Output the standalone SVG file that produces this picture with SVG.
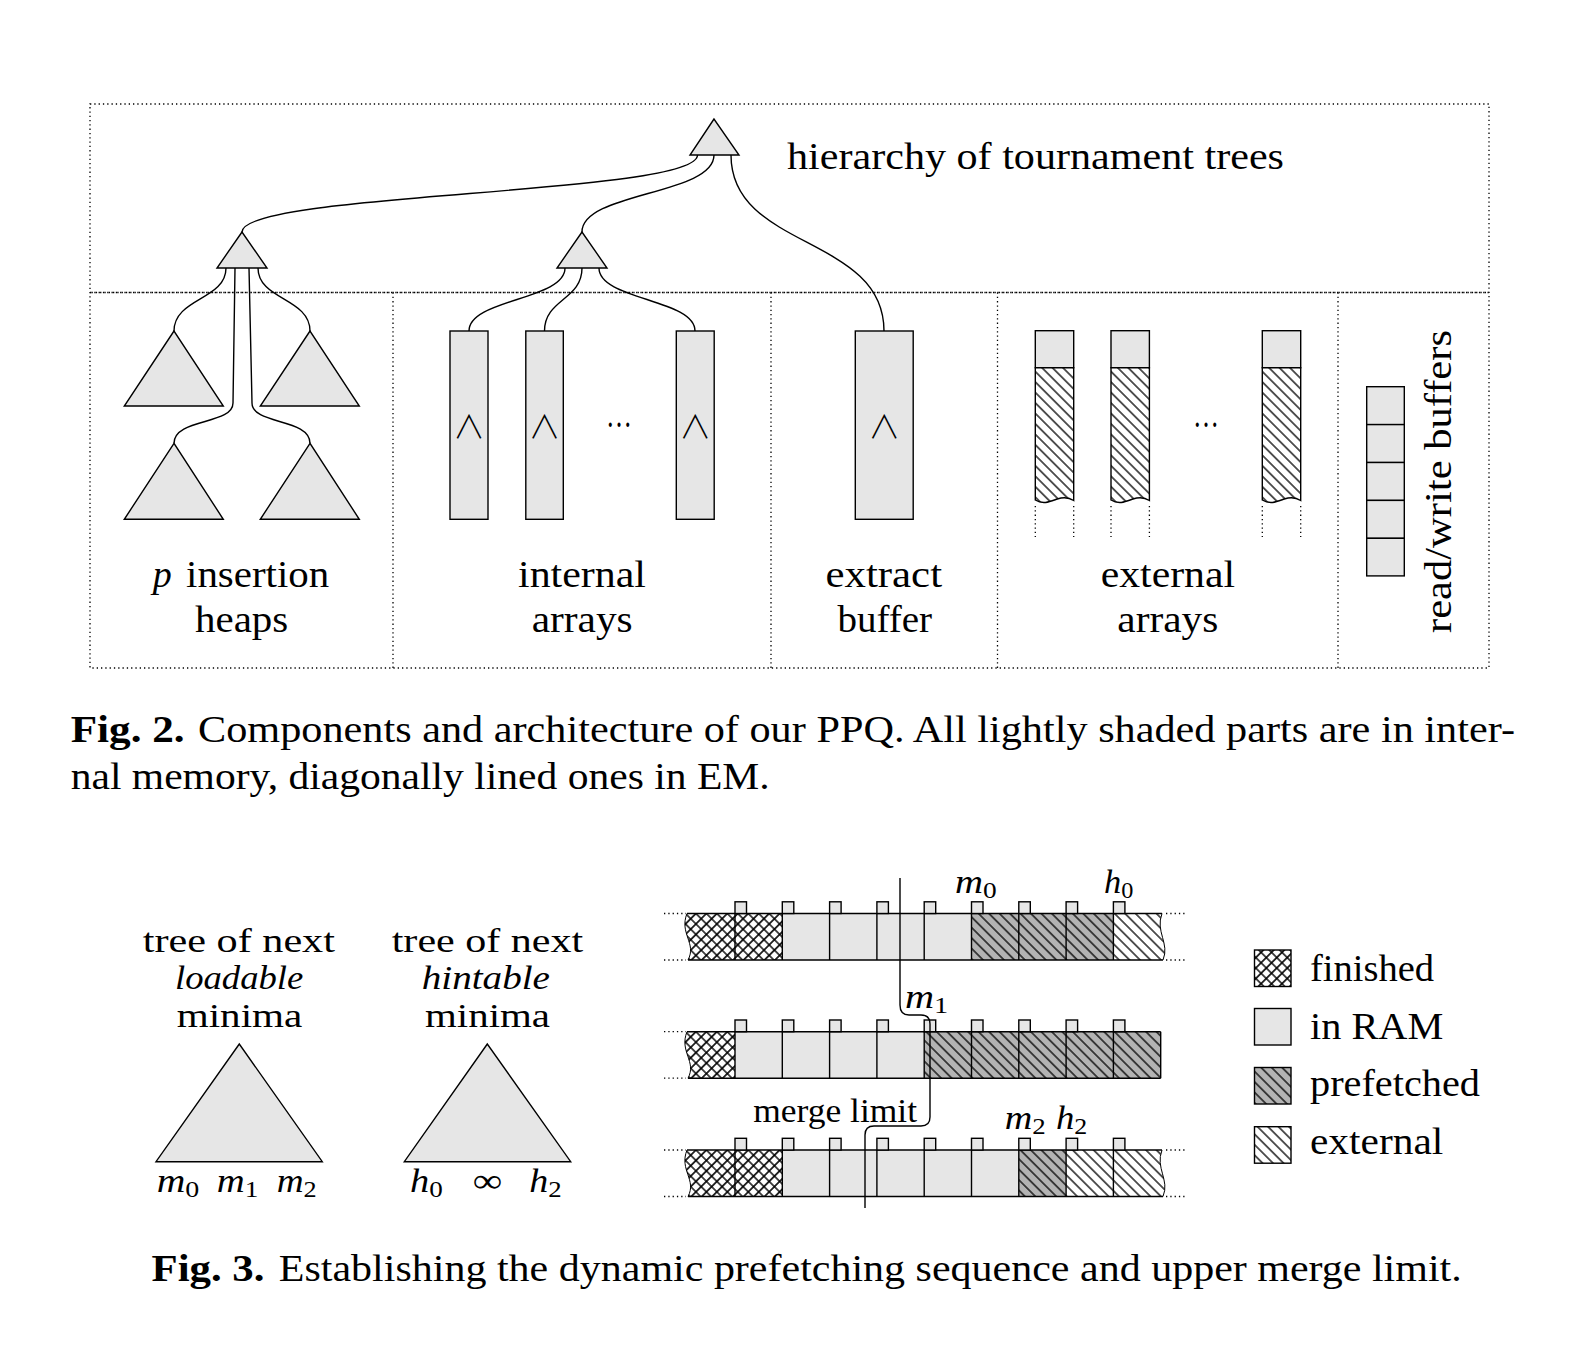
<svg xmlns="http://www.w3.org/2000/svg" width="1584" height="1348" viewBox="0 0 1584 1348">
<defs>
<style>
.t{font-family:"Liberation Serif","Times New Roman",serif;font-size:38px;fill:#000}
.cap{font-size:37px}
.f3{font-size:33.5px}
.it{font-style:italic}
.b{font-weight:bold}
.m{font-family:"Liberation Serif","Times New Roman",serif;font-style:italic;font-size:34px;fill:#000}
.sub{font-style:normal;font-size:24px}
.ln{fill:none;stroke:#000;stroke-width:1.4}
.lt{fill:#e6e6e6;stroke:#000;stroke-width:1.4}
.dt{fill:none;stroke:#000;stroke-width:1.3;stroke-dasharray:1.3 3}
.sym{font-family:"Noto Sans CJK JP","DejaVu Sans",sans-serif;font-weight:300;font-size:32px;fill:#000}
.wv{fill:none;stroke:#000;stroke-width:1}
</style>
<pattern id="nw" patternUnits="userSpaceOnUse" width="7.4" height="7.4" patternTransform="rotate(-45)"><rect width="7.4" height="7.4" fill="#fff"/><line x1="3.7" y1="-1" x2="3.7" y2="8.4" stroke="#000" stroke-width="1.3"/></pattern>
<pattern id="nwg" patternUnits="userSpaceOnUse" width="7.4" height="7.4" patternTransform="rotate(-45)"><rect width="7.4" height="7.4" fill="#b3b3b3"/><line x1="3.7" y1="-1" x2="3.7" y2="8.4" stroke="#000" stroke-width="1.3"/></pattern>
<pattern id="cross" patternUnits="userSpaceOnUse" width="7.4" height="7.4" patternTransform="rotate(45)"><rect width="7.4" height="7.4" fill="#fff"/><path d="M3.7,-1V8.4M-1,3.7H8.4" stroke="#000" stroke-width="1.6"/></pattern>
</defs>
<rect width="1584" height="1348" fill="#fff"/>

<!-- Fig 2 frame -->
<g id="fig2-frame">
<rect class="dt" x="90" y="104" width="1399" height="564"/>
<line class="dt" x1="90" y1="292.5" x2="1489" y2="292.5"/>
<line class="dt" x1="91.5" y1="292.5" x2="1489" y2="292.5"/>
<line class="dt" x1="393" y1="292.5" x2="393" y2="668"/>
<line class="dt" x1="771" y1="292.5" x2="771" y2="668"/>
<line class="dt" x1="997.5" y1="292.5" x2="997.5" y2="668"/>
<line class="dt" x1="1338" y1="292.5" x2="1338" y2="668"/>
</g>

<g id="fig2-connectors">
<path class="ln" d="M697.5,155 C697.5,195 242,192 242,232"/>
<path class="ln" d="M714,155 C714,195 582,192 582,232"/>
<path class="ln" d="M731,155 C731,250 884,235 884,331"/>
<path class="ln" d="M226,268 C226,300 174,298 174,331"/>
<path class="ln" d="M235,268 L233,403 C233,425 174,418 174,443.3"/>
<path class="ln" d="M249,268 L252,403 C252,425 310,418 310,443.3"/>
<path class="ln" d="M258,268 C258,300 310,298 310,331"/>
<path class="ln" d="M565,268 C565,300 469,299 469,331"/>
<path class="ln" d="M582,268 C582,300 544.5,299 544.5,331"/>
<path class="ln" d="M599,268 C599,300 695,299 695,331"/>
</g>

<g id="top-tree"><polygon class="lt" points="714,119 690,155 739,155"/></g>
<g id="heap-tree"><polygon class="lt" points="242,232 217,268 267,268"/></g>
<g id="array-tree"><polygon class="lt" points="582,232 557,268 607,268"/></g>
<text class="t" x="787" y="169" textLength="497" lengthAdjust="spacingAndGlyphs">hierarchy of tournament trees</text>

<g id="insertion-heaps">
<polygon class="lt" points="174,331 124.3,406 223.3,406"/>
<polygon class="lt" points="310,331 260.3,406 359.3,406"/>
<polygon class="lt" points="174,443.3 124.3,519.3 223.3,519.3"/>
<polygon class="lt" points="310,443.3 260.3,519.3 359.3,519.3"/>
<text class="t it" x="152.7" y="586.7">p</text>
<text class="t" x="186" y="586.7" textLength="143.3" lengthAdjust="spacingAndGlyphs">insertion</text>
<text class="t" x="195" y="631.7" textLength="93.3" lengthAdjust="spacingAndGlyphs">heaps</text>
</g>

<g id="internal-arrays">
<rect class="lt" x="450" y="331" width="38" height="188.3"/>
<rect class="lt" x="525.8" y="331" width="37.5" height="188.3"/>
<rect class="lt" x="676.3" y="331" width="37.9" height="188.3"/>
<text class="sym" x="469" y="438" text-anchor="middle">∧</text>
<text class="sym" x="544.5" y="438" text-anchor="middle">∧</text>
<text class="sym" x="695.2" y="438" text-anchor="middle">∧</text>
<text class="t" x="606" y="427" textLength="26" lengthAdjust="spacingAndGlyphs">…</text>
<text class="t" x="518" y="586.7" textLength="128" lengthAdjust="spacingAndGlyphs">internal</text>
<text class="t" x="531.7" y="631.7" textLength="101" lengthAdjust="spacingAndGlyphs">arrays</text>
</g>

<g id="extract-buffer">
<rect class="lt" x="855.3" y="331" width="57.9" height="188.3"/>
<text class="sym" x="884.2" y="438" text-anchor="middle">∧</text>
<text class="t" x="825.4" y="586.7" textLength="116.7" lengthAdjust="spacingAndGlyphs">extract</text>
<text class="t" x="837.4" y="631.7" textLength="94.7" lengthAdjust="spacingAndGlyphs">buffer</text>
</g>

<g id="external-arrays">
<g transform="translate(1035.3,0)">
<rect class="lt" x="0" y="330.7" width="38.4" height="37"/>
<path d="M0,367.7 H38.4 V500.5 C33,497 28,497 22,499 C15,501.5 8,505 0,500 Z" fill="url(#nw)" stroke="#000" stroke-width="1.4"/>
<line class="dt" x1="0" y1="506" x2="0" y2="537"/><line class="dt" x1="38.4" y1="506" x2="38.4" y2="537"/>
</g>
<g transform="translate(1111,0)">
<rect class="lt" x="0" y="330.7" width="38.4" height="37"/>
<path d="M0,367.7 H38.4 V500.5 C33,497 28,497 22,499 C15,501.5 8,505 0,500 Z" fill="url(#nw)" stroke="#000" stroke-width="1.4"/>
<line class="dt" x1="0" y1="506" x2="0" y2="537"/><line class="dt" x1="38.4" y1="506" x2="38.4" y2="537"/>
</g>
<g transform="translate(1262.3,0)">
<rect class="lt" x="0" y="330.7" width="38.4" height="37"/>
<path d="M0,367.7 H38.4 V500.5 C33,497 28,497 22,499 C15,501.5 8,505 0,500 Z" fill="url(#nw)" stroke="#000" stroke-width="1.4"/>
<line class="dt" x1="0" y1="506" x2="0" y2="537"/><line class="dt" x1="38.4" y1="506" x2="38.4" y2="537"/>
</g>
<text class="t" x="1193" y="427" textLength="26" lengthAdjust="spacingAndGlyphs">…</text>
<text class="t" x="1100.7" y="586.7" textLength="134.3" lengthAdjust="spacingAndGlyphs">external</text>
<text class="t" x="1117.3" y="631.7" textLength="101" lengthAdjust="spacingAndGlyphs">arrays</text>
</g>

<g id="rw-buffers">
<rect class="lt" x="1366.7" y="386.7" width="37.6" height="37.9"/>
<rect class="lt" x="1366.7" y="424.6" width="37.6" height="37.9"/>
<rect class="lt" x="1366.7" y="462.5" width="37.6" height="37.9"/>
<rect class="lt" x="1366.7" y="500.4" width="37.6" height="37.9"/>
<rect class="lt" x="1366.7" y="538.3" width="37.6" height="37.6"/>
<text class="t" transform="translate(1451,481.5) rotate(-90)" text-anchor="middle" textLength="303" lengthAdjust="spacingAndGlyphs">read/write buffers</text>
</g>

<g id="fig2-caption">
<text class="t cap b" x="70.7" y="742" textLength="114" lengthAdjust="spacingAndGlyphs">Fig. 2.</text>
<text class="t cap" x="198" y="742" textLength="1317" lengthAdjust="spacingAndGlyphs">Components and architecture of our PPQ. All lightly shaded parts are in inter-</text>
<text class="t cap" x="70.7" y="789" textLength="699" lengthAdjust="spacingAndGlyphs">nal memory, diagonally lined ones in EM.</text>
</g>

<!-- Fig 3 -->
<g id="loadable-tree">
<text class="t f3" x="142.7" y="951.5" textLength="192.3" lengthAdjust="spacingAndGlyphs">tree of next</text>
<text class="t f3 it" x="175" y="989" textLength="128.3" lengthAdjust="spacingAndGlyphs">loadable</text>
<text class="t f3" x="176.7" y="1027" textLength="125.7" lengthAdjust="spacingAndGlyphs">minima</text>
<polygon class="lt" points="239.3,1044 156,1161.7 322.3,1161.7"/>
<text class="m" x="156.7" y="1192" textLength="42.6" lengthAdjust="spacingAndGlyphs">m<tspan class="sub" dy="5">0</tspan></text>
<text class="m" x="216.7" y="1192" textLength="41.6" lengthAdjust="spacingAndGlyphs">m<tspan class="sub" dy="5">1</tspan></text>
<text class="m" x="276.7" y="1192" textLength="40" lengthAdjust="spacingAndGlyphs">m<tspan class="sub" dy="5">2</tspan></text>
</g>

<g id="hintable-tree">
<text class="t f3" x="391.7" y="951.5" textLength="191.6" lengthAdjust="spacingAndGlyphs">tree of next</text>
<text class="t f3 it" x="421.7" y="989" textLength="128.3" lengthAdjust="spacingAndGlyphs">hintable</text>
<text class="t f3" x="425" y="1027" textLength="125" lengthAdjust="spacingAndGlyphs">minima</text>
<polygon class="lt" points="487.3,1044 404.3,1161.7 570.7,1161.7"/>
<text class="m" x="410" y="1192" textLength="32.7" lengthAdjust="spacingAndGlyphs">h<tspan class="sub" dy="5">0</tspan></text>
<text class="t" x="472.7" y="1192" textLength="29.6" lengthAdjust="spacingAndGlyphs" style="font-size:34px">∞</text>
<text class="m" x="529.3" y="1192" textLength="32.4" lengthAdjust="spacingAndGlyphs">h<tspan class="sub" dy="5">2</tspan></text>
</g>

<!-- Row 1 -->
<g id="row1" transform="translate(0,913.5)">
<path d="M735,0 H687 C679,20 697,30 688,46.5 H735 Z" fill="url(#cross)"/>
<rect x="735" y="0" width="47.3" height="46.5" fill="url(#cross)"/>
<rect x="782.3" y="0" width="189.2" height="46.5" fill="#e6e6e6"/>
<rect x="971.5" y="0" width="141.9" height="46.5" fill="url(#nwg)"/>
<path d="M1113.4,0 H1162 C1155,18 1170,30 1163,46.5 H1113.4 Z" fill="url(#nw)"/>
<path class="wv" d="M687,0 C679,20 697,30 688,46.5"/>
<path class="wv" d="M1162,0 C1155,18 1170,30 1163,46.5"/>
<line class="ln" x1="687" y1="0" x2="1162" y2="0"/>
<line class="ln" x1="688" y1="46.5" x2="1163" y2="46.5"/>
<path class="ln" d="M735,0V46.5M782.3,0V46.5M829.6,0V46.5M876.9,0V46.5M924.2,0V46.5M971.5,0V46.5M1018.8,0V46.5M1066.1,0V46.5M1113.4,0V46.5"/>
<rect class="lt" x="735" y="-11.7" width="11.5" height="11.7"/><rect class="lt" x="782.3" y="-11.7" width="11.5" height="11.7"/><rect class="lt" x="829.6" y="-11.7" width="11.5" height="11.7"/><rect class="lt" x="876.9" y="-11.7" width="11.5" height="11.7"/><rect class="lt" x="924.2" y="-11.7" width="11.5" height="11.7"/><rect class="lt" x="971.5" y="-11.7" width="11.5" height="11.7"/><rect class="lt" x="1018.8" y="-11.7" width="11.5" height="11.7"/><rect class="lt" x="1066.1" y="-11.7" width="11.5" height="11.7"/><rect class="lt" x="1113.4" y="-11.7" width="11.5" height="11.7"/>
<path class="dt" d="M664,0H686M664,46.5H686M1166,0H1186M1166,46.5H1186"/>
</g>

<!-- Row 2 -->
<g id="row2" transform="translate(0,1031.7)">
<path d="M735,0 H687 C679,20 697,30 688,46.5 H735 Z" fill="url(#cross)"/>
<rect x="735" y="0" width="189.2" height="46.5" fill="#e6e6e6"/>
<rect x="924.2" y="0" width="236.5" height="46.5" fill="url(#nwg)"/>
<path class="wv" d="M687,0 C679,20 697,30 688,46.5"/>
<line class="ln" x1="687" y1="0" x2="1160.7" y2="0"/>
<line class="ln" x1="688" y1="46.5" x2="1160.7" y2="46.5"/>
<path class="ln" d="M735,0V46.5M782.3,0V46.5M829.6,0V46.5M876.9,0V46.5M924.2,0V46.5M971.5,0V46.5M1018.8,0V46.5M1066.1,0V46.5M1113.4,0V46.5M1160.7,0V46.5"/>
<rect class="lt" x="735" y="-11.7" width="11.5" height="11.7"/><rect class="lt" x="782.3" y="-11.7" width="11.5" height="11.7"/><rect class="lt" x="829.6" y="-11.7" width="11.5" height="11.7"/><rect class="lt" x="876.9" y="-11.7" width="11.5" height="11.7"/><rect class="lt" x="924.2" y="-11.7" width="11.5" height="11.7"/><rect class="lt" x="971.5" y="-11.7" width="11.5" height="11.7"/><rect class="lt" x="1018.8" y="-11.7" width="11.5" height="11.7"/><rect class="lt" x="1066.1" y="-11.7" width="11.5" height="11.7"/><rect class="lt" x="1113.4" y="-11.7" width="11.5" height="11.7"/>
<path class="dt" d="M664,0H686M664,46.5H686"/>
</g>

<!-- Row 3 -->
<g id="row3" transform="translate(0,1150)">
<path d="M735,0 H687 C679,20 697,30 688,46.5 H735 Z" fill="url(#cross)"/>
<rect x="735" y="0" width="47.3" height="46.5" fill="url(#cross)"/>
<rect x="782.3" y="0" width="236.5" height="46.5" fill="#e6e6e6"/>
<rect x="1018.8" y="0" width="47.3" height="46.5" fill="url(#nwg)"/>
<rect x="1066.1" y="0" width="47.3" height="46.5" fill="url(#nw)"/>
<path d="M1113.4,0 H1162 C1155,18 1170,30 1163,46.5 H1113.4 Z" fill="url(#nw)"/>
<path class="wv" d="M687,0 C679,20 697,30 688,46.5"/>
<path class="wv" d="M1162,0 C1155,18 1170,30 1163,46.5"/>
<line class="ln" x1="687" y1="0" x2="1162" y2="0"/>
<line class="ln" x1="688" y1="46.5" x2="1163" y2="46.5"/>
<path class="ln" d="M735,0V46.5M782.3,0V46.5M829.6,0V46.5M876.9,0V46.5M924.2,0V46.5M971.5,0V46.5M1018.8,0V46.5M1066.1,0V46.5M1113.4,0V46.5"/>
<rect class="lt" x="735" y="-11.7" width="11.5" height="11.7"/><rect class="lt" x="782.3" y="-11.7" width="11.5" height="11.7"/><rect class="lt" x="829.6" y="-11.7" width="11.5" height="11.7"/><rect class="lt" x="876.9" y="-11.7" width="11.5" height="11.7"/><rect class="lt" x="924.2" y="-11.7" width="11.5" height="11.7"/><rect class="lt" x="971.5" y="-11.7" width="11.5" height="11.7"/><rect class="lt" x="1018.8" y="-11.7" width="11.5" height="11.7"/><rect class="lt" x="1066.1" y="-11.7" width="11.5" height="11.7"/><rect class="lt" x="1113.4" y="-11.7" width="11.5" height="11.7"/>
<path class="dt" d="M664,0H686M664,46.5H686M1166,0H1186M1166,46.5H1186"/>
</g>

<g id="fig3-connectors">
<path class="ln" d="M900,878 V1005 Q900,1015 909,1015 H921 Q930,1015 930,1024 V1117 Q930,1126 921,1126 H874 Q865,1126 865,1135 V1208"/>
</g>

<g id="fig3-labels">
<text class="m" x="955" y="893" textLength="41.7" lengthAdjust="spacingAndGlyphs">m<tspan class="sub" dy="5">0</tspan></text>
<text class="m" x="1104" y="893" textLength="29.3" lengthAdjust="spacingAndGlyphs">h<tspan class="sub" dy="5">0</tspan></text>
<text class="m" x="905" y="1008" textLength="43.3" lengthAdjust="spacingAndGlyphs">m<tspan class="sub" dy="5">1</tspan></text>
<text class="t" x="753.3" y="1122" textLength="163.7" lengthAdjust="spacingAndGlyphs" style="font-size:33px">merge limit</text>
<text class="m" x="1004.7" y="1129" textLength="41" lengthAdjust="spacingAndGlyphs">m<tspan class="sub" dy="5">2</tspan></text>
<text class="m" x="1056" y="1129" textLength="31.3" lengthAdjust="spacingAndGlyphs">h<tspan class="sub" dy="5">2</tspan></text>
</g>

<g id="legend">
<rect x="1254.5" y="950" width="36.5" height="36.5" fill="url(#cross)" stroke="#000" stroke-width="1.4"/>
<rect class="lt" x="1254.5" y="1008.5" width="36.5" height="36.5"/>
<rect x="1254.5" y="1067.5" width="36.5" height="36.5" fill="url(#nwg)" stroke="#000" stroke-width="1.4"/>
<rect x="1254.5" y="1126.7" width="36.5" height="36.5" fill="url(#nw)" stroke="#000" stroke-width="1.4"/>
<text class="t" x="1310" y="980.7" textLength="124" lengthAdjust="spacingAndGlyphs">finished</text>
<text class="t" x="1310" y="1038.7" textLength="133.3" lengthAdjust="spacingAndGlyphs">in RAM</text>
<text class="t" x="1310" y="1096" textLength="170" lengthAdjust="spacingAndGlyphs">prefetched</text>
<text class="t" x="1310" y="1154" textLength="133.3" lengthAdjust="spacingAndGlyphs">external</text>
</g>

<g id="fig3-caption">
<text class="t cap b" x="151.5" y="1281" textLength="113" lengthAdjust="spacingAndGlyphs">Fig. 3.</text>
<text class="t cap" x="278.8" y="1281" textLength="1183" lengthAdjust="spacingAndGlyphs">Establishing the dynamic prefetching sequence and upper merge limit.</text>
</g>
</svg>
